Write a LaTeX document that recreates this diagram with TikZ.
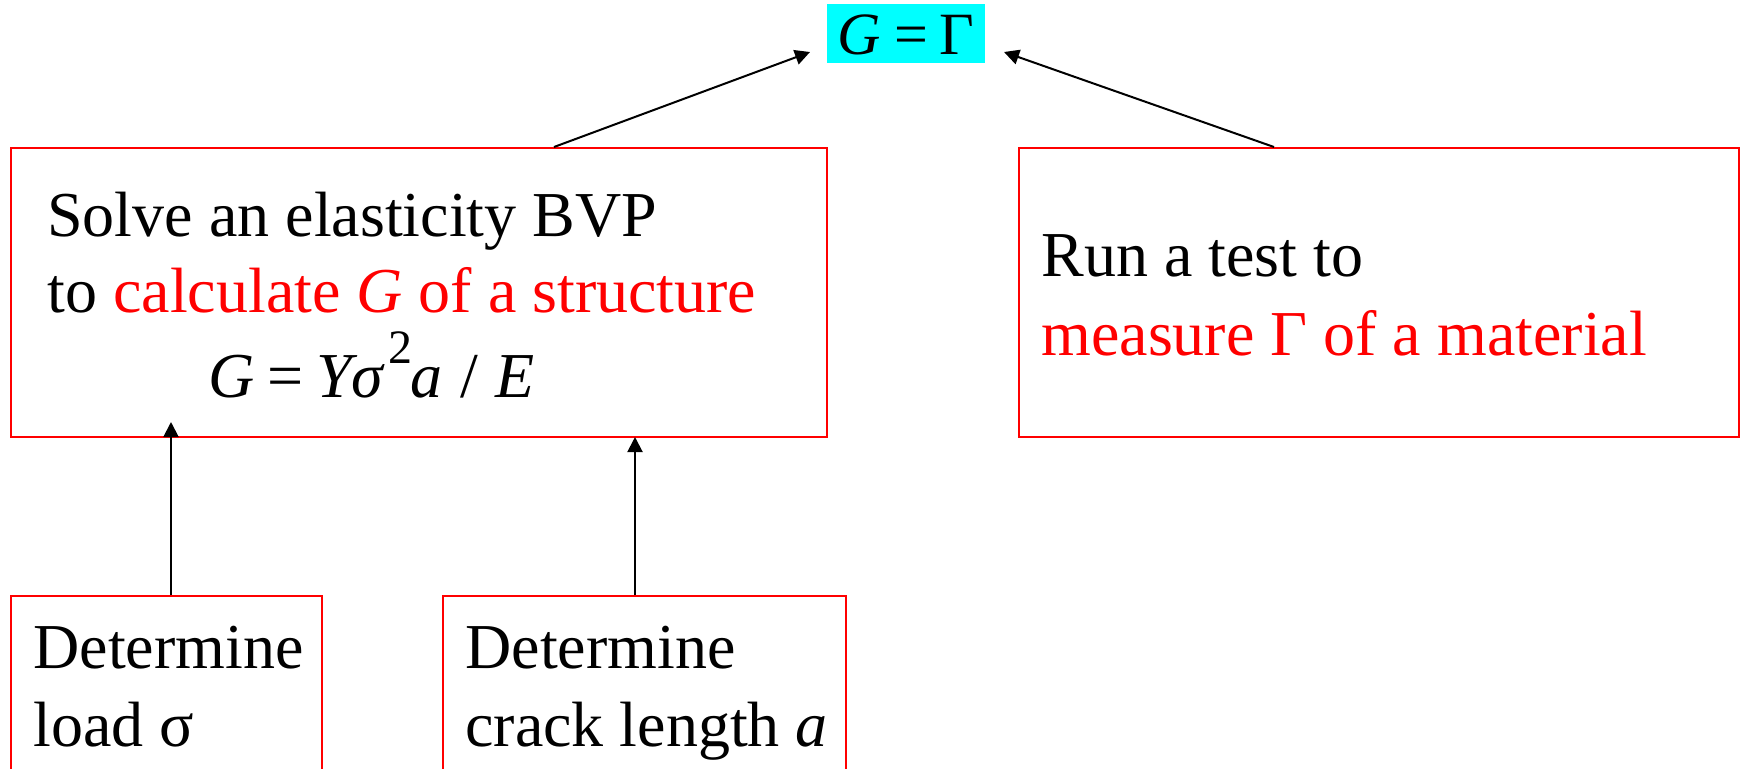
\documentclass[tikz,border=0pt]{standalone}
\usepackage{fontspec}
\setmainfont{Liberation Serif}
\usetikzlibrary{arrows.meta}
\definecolor{hl}{RGB}{0,255,255}
\tikzset{
  frame/.style={draw=red, line width=1pt, inner sep=0pt},
  txt/.style={font=\fontsize{32}{38.5}\selectfont, inner sep=0pt, anchor=base west},
  arr/.style={-{Triangle[width=7.5pt,length=7.5pt]}, line width=1pt, black},
}
\begin{document}
\begin{tikzpicture}[x=0.5pt,y=-0.5pt]
\clip (0,0) rectangle (1743,768);
\fill[white] (0,0) rectangle (1743,768);

% target relation
\node[fill=hl, inner sep=0pt, minimum width=79pt, minimum height=29.5pt,
      text height=25pt, text depth=4.5pt, font=\fontsize{30}{36}\selectfont]
  (goal) at (906,33.5) {\textit{G}\hspace{0.22em}=\hspace{0.2em}Γ};

% boxes
\node[frame, minimum width=408pt, minimum height=144.5pt] (bvp) at (419,292.5) {};
\node[frame, minimum width=360pt, minimum height=144.5pt] (test) at (1379,292.5) {};
\node[frame, minimum width=155.5pt, minimum height=152pt] (load) at (166.5,748) {};
\node[frame, minimum width=201.5pt, minimum height=152pt] (crack) at (644.5,748) {};

% box texts
\node[txt] (bvp1) at (47,236) {Solve an elasticity BVP};
\node[txt] (bvp2) at (47,312) {to \textcolor{red}{calculate \textit{G} of a structure}};
\node[txt] (bvp3) at (208,397) {\textit{G}\hspace{0.2em}=\hspace{0.2em}\textit{Yσ}\hspace{0.05em}\raisebox{17pt}{\fontsize{24}{24}\selectfont 2}\hspace{-0.04em}\textit{a}\hspace{0.28em}/\hspace{0.28em}\textit{E}};

\node[txt] (test1) at (1041,276) {Run a test to};
\node[txt, red] (test2) at (1041,355) {measure Γ of a material};

\node[txt] (load1) at (33,668) {Determine};
\node[txt] (load2) at (33,746) {load σ};

\node[txt] (crack1) at (465,668) {Determine};
\node[txt] (crack2) at (465,746) {crack length \textit{a}};

% connectors
\coordinate (goalL) at (810,52);
\coordinate (goalR) at (1004,52);
\coordinate (bvpInL) at (171,422);
\coordinate (bvpInR) at (635,437);
\draw[arr] ([xshift=272pt]bvp.north west) -- (goalL);
\draw[arr] ([xshift=128pt]test.north west) -- (goalR);
\draw[arr] (load.north -| bvpInL) -- (bvpInL);
\draw[arr] (crack.north -| bvpInR) -- (bvpInR);
\end{tikzpicture}
\end{document}
